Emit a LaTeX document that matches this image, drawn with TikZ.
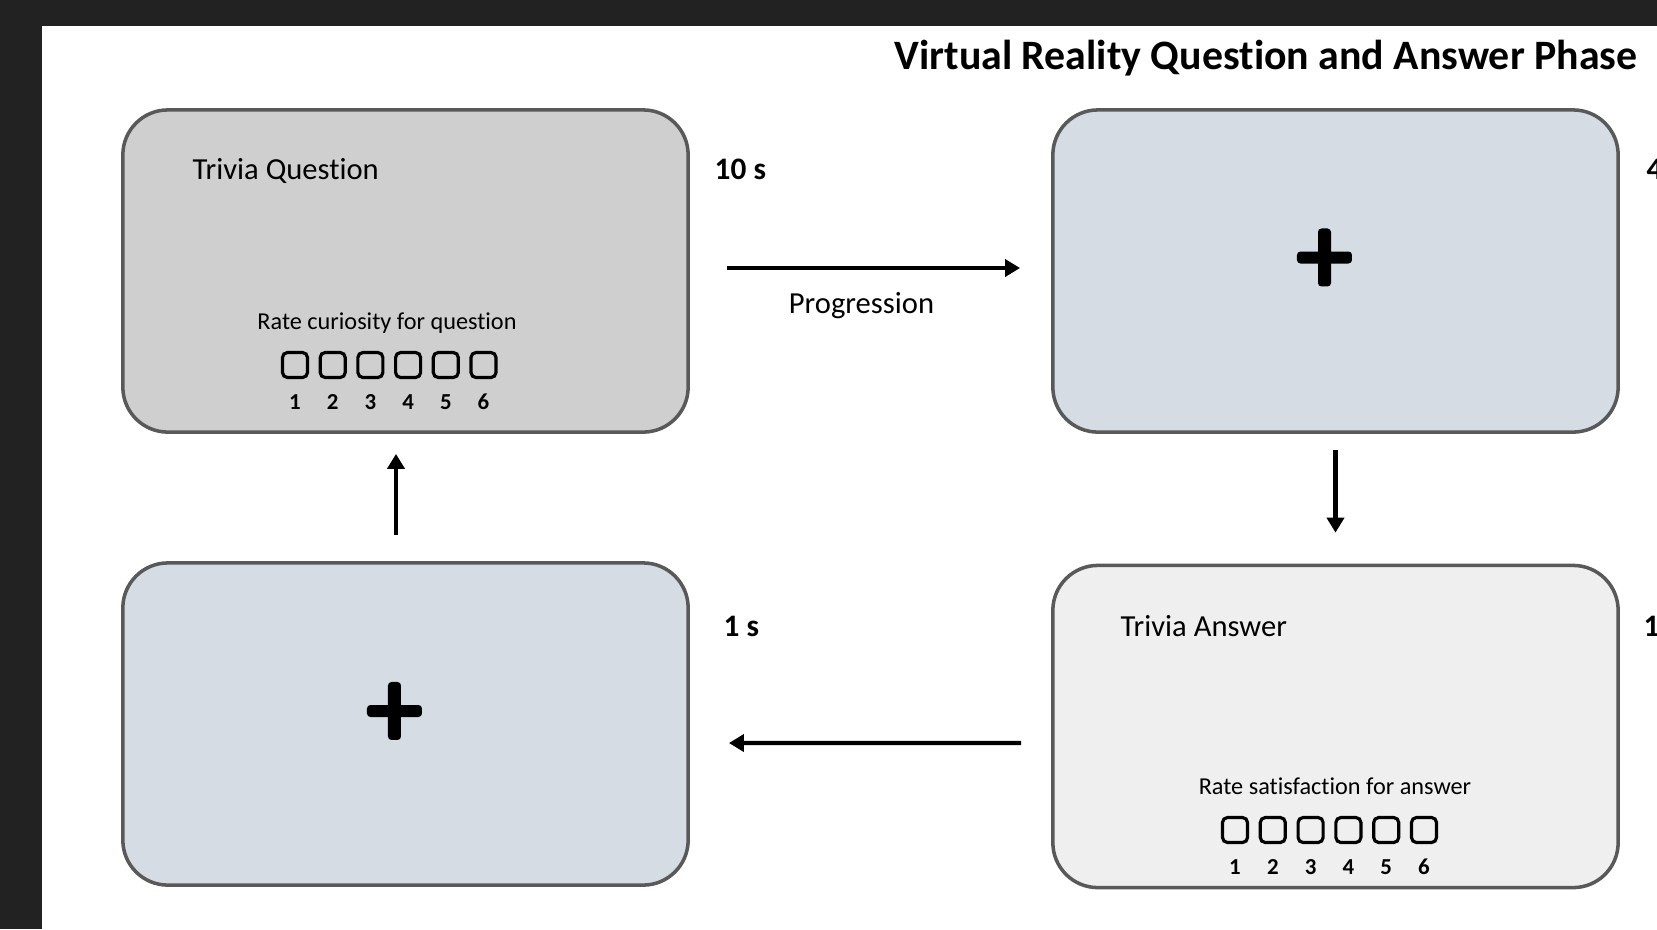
\documentclass[tikz,border=0pt]{standalone}
\usepackage{fontspec}
\setmainfont{Carlito}[Ligatures=NoCommon]
\usetikzlibrary{arrows.meta}

\definecolor{framegray}{RGB}{34,34,34}
\definecolor{edgegray}{RGB}{89,89,89}
\definecolor{questiongray}{RGB}{207,207,207}
\definecolor{waitblue}{RGB}{213,220,227}
\definecolor{answergray}{RGB}{239,239,239}

\begin{document}
\begin{tikzpicture}[
    x=0.01cm, y=-0.01cm,
    screen/.style={draw=edgegray, line width=1pt, rounded corners=0.45cm, minimum width=5.65cm, minimum height=3.22cm},
    arrow/.style={-{Triangle[length=0.15cm,width=0.17cm]}, line width=1.2pt},
    ratebox/.style={draw, line width=0.9pt, rounded corners=0.05cm, minimum size=0.25cm, inner sep=0pt},
    ratenum/.style={font=\fontsize{6.5}{7}\selectfont\bfseries, inner sep=0pt},
    screentext/.style={font=\fontsize{8.7}{10}\selectfont, inner sep=0pt},
    ratetext/.style={font=\fontsize{6.9}{8}\selectfont, inner sep=0pt},
    timing/.style={font=\fontsize{8.9}{10}\selectfont\bfseries, inner sep=0pt, anchor=west}
]

\useasboundingbox (0,0) rectangle (1657,929);

% Frame
\fill[framegray] (0,0) rectangle (1657,929);
\fill[white] (42,26) rectangle (1657,929);

% Title
\node[font=\fontsize{11.9}{14}\selectfont\bfseries, inner sep=0pt, anchor=east] (title) at (1638,58) {Virtual Reality Question and Answer Phase};

% Four screens
\node[screen, fill=questiongray] (question) at (405.5,271) {};
\node[screen, fill=waitblue] (waitq) at (1335.5,271) {};
\node[screen, fill=waitblue] (waita) at (405.5,724) {};
\node[screen, fill=answergray] (answer) at (1335.5,726.5) {};

% Timings
\node[timing] (tq) at (714,169) {10 s};
\node[timing] (tw) at (1646,169) {4};
\node[timing] (ta) at (1643,626) {1};
\node[timing] (ti) at (723,626) {1 s};

% Question screen
\node[screentext, anchor=west] (qtitle) at (192,171) {Trivia Question};
\node[ratetext] (qrate) at (387,323) {Rate curiosity for question};
\foreach \i in {1,...,6} {
    \node[ratebox] (qb\i) at ({295+37.7*(\i-1)},365) {};
    \node[ratenum] (qn\i) at ({295+37.7*(\i-1)},402) {\i};
}

% Answer screen
\node[screentext, anchor=west] (atitle) at (1120,626) {Trivia Answer};
\node[ratetext] (arate) at (1335,786) {Rate satisfaction for answer};
\foreach \i in {1,...,6} {
    \node[ratebox] (ab\i) at ({1235+37.8*(\i-1)},830) {};
    \node[ratenum] (an\i) at ({1235+37.8*(\i-1)},867) {\i};
}

% Fixation crosses
\coordinate (plusq) at ([xshift=-0.11cm,yshift=0.135cm]waitq.center);
\coordinate (plusa) at ([xshift=-0.11cm,yshift=0.13cm]waita.center);
\foreach \c in {plusq,plusa} {
    \fill[rounded corners=1pt] ([xshift=-0.275cm,yshift=0.06cm]\c) rectangle ++(55,12);
    \fill[rounded corners=1pt] ([xshift=-0.065cm,yshift=0.29cm]\c) rectangle ++(13,58);
}

% Connections
\draw[arrow, shorten <=0.37cm, shorten >=0.31cm] ([yshift=0.03cm]question.east) -- ([yshift=0.03cm]waitq.west)
    node[midway, below=0.22cm, screentext, xshift=-0.09cm] (prog) {Progression};
\draw[arrow, shorten <=0.16cm, shorten >=0.31cm] (waitq.south) -- (answer.north);
\draw[arrow, shorten <=0.3cm, shorten >=0.39cm] ([yshift=-0.165cm]answer.west) -- ([yshift=-0.19cm]waita.east);
\draw[arrow, shorten <=0.26cm, shorten >=0.2cm] ([xshift=-0.095cm]waita.north) -- ([xshift=-0.095cm]question.south);

\end{tikzpicture}
\end{document}
